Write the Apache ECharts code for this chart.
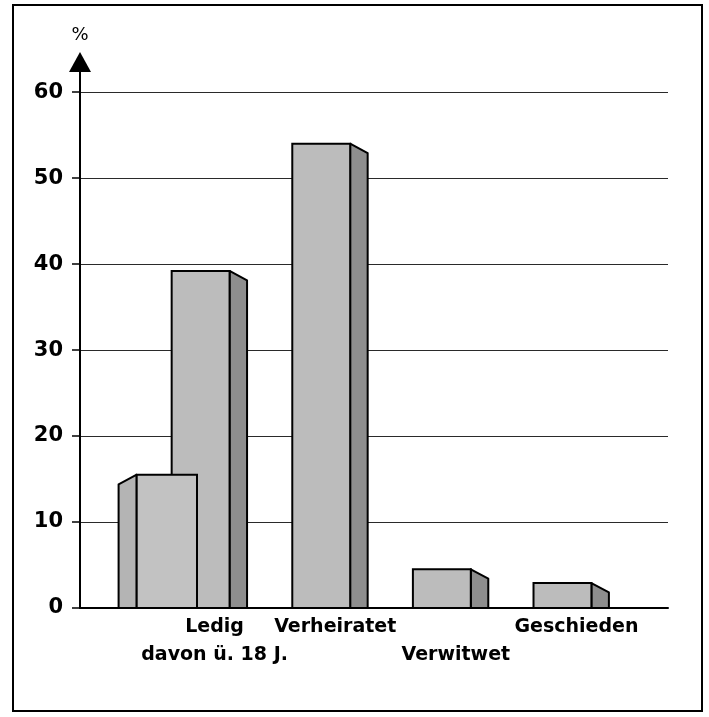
<!DOCTYPE html>
<html>
<head>
<meta charset="utf-8">
<script src="https://cdn.jsdelivr.net/npm/echarts@6/dist/echarts.min.js"></script>
<style>
html,body{margin:0;padding:0;background:#fff;}
#chart{width:709px;height:717px;}
</style>
</head>
<body>
<div id="chart"></div>
<script>
// ---- data ----
const categories = ['Ledig', 'Verheiratet', 'Verwitwet', 'Geschieden'];
const xPositions = [1, 2, 3, 4];
const values = [39.2, 54.0, 4.5, 2.9];           // % per Familienstand
const subValues = [15.5];                         // Ledig, davon über 18 J.
const row1Pos = [1, 2, 4];
const row1Text = ['Ledig', 'Verheiratet', 'Geschieden'];
const row2Pos = [1, 3];
const row2Text = ['davon ü. 18 J.', 'Verwitwet'];
const yTicks = [0, 10, 20, 30, 40, 50, 60];

const FONT = 'DejaVu Sans';

const chart = echarts.init(document.getElementById('chart'), null, {renderer: 'canvas'});

function mainBar(params, api) {
  const x = api.value(0), v = api.value(1);
  const base = api.coord([x, 0]);
  const top = api.coord([x, v]);
  const unit = api.size([1, 0])[0];
  const w = unit * 0.48, depth = unit * 0.145, drop = unit * 0.078;
  const x0 = base[0] - w / 2;
  return {
    type: 'group',
    children: [
      {type: 'polygon', shape: {points: [[x0 + w, top[1]], [x0 + w + depth, top[1] + drop], [x0 + w + depth, base[1]], [x0 + w, base[1]]]},
       style: {fill: '#8e8e8e', stroke: '#000', lineWidth: 2, lineJoin: 'round'}},
      {type: 'rect', shape: {x: x0, y: top[1], width: w, height: base[1] - top[1]},
       style: {fill: '#bcbcbc', stroke: '#000', lineWidth: 2}}
    ]
  };
}

function subBar(params, api) {
  const x = api.value(0), v = api.value(1);
  const unit = api.size([1, 0])[0];
  const base = api.coord([x, 0]);
  const top = api.coord([x, v]);
  const cx = base[0] - unit * 0.28;
  const w = unit * 0.5, depth = unit * 0.15, drop = unit * 0.08;
  const x0 = cx - w / 2;
  return {
    type: 'group',
    children: [
      {type: 'polygon', shape: {points: [[x0 - depth, top[1] + drop], [x0, top[1]], [x0, base[1]], [x0 - depth, base[1]]]},
       style: {fill: '#b4b4b4', stroke: '#000', lineWidth: 2, lineJoin: 'round'}},
      {type: 'rect', shape: {x: x0, y: top[1], width: w, height: base[1] - top[1]},
       style: {fill: '#c2c2c2', stroke: '#000', lineWidth: 2}}
    ]
  };
}

function labelStyle(pos, text, margin) {
  return {
    customValues: pos,
    showMinLabel: true, showMaxLabel: true, hideOverlap: false,
    margin: margin,
    color: '#000',
    fontFamily: FONT, fontWeight: 'bold', fontSize: 19, lineHeight: 28,
    padding: [0, 0, 0, 28],
    formatter: function (val) {
      const i = pos.indexOf(Math.round(val));
      return i < 0 ? '' : text[i];
    }
  };
}

const option = {
  animation: false,
  backgroundColor: '#fff',
  grid: {left: 80, right: 41, top: 62, bottom: 109, containLabel: false},
  graphic: [{
    type: 'rect', shape: {x: 13, y: 5, width: 689, height: 706},
    style: {fill: 'none', stroke: '#000', lineWidth: 2}, z: -1
  }],
  xAxis: [{
    type: 'value', min: 0, max: 4.875, position: 'bottom',
    axisLine: {show: true, lineStyle: {color: '#000', width: 2}},
    axisTick: {show: false},
    splitLine: {show: false},
    axisLabel: labelStyle(row1Pos, row1Text, 5)
  }, {
    type: 'value', min: 0, max: 4.875, position: 'bottom',
    axisLine: {show: false},
    axisTick: {show: false},
    splitLine: {show: false},
    axisLabel: labelStyle(row2Pos, row2Text, 33)
  }],
  yAxis: {
    type: 'value', min: 0, max: 63.5, interval: 10,
    name: '%', nameLocation: 'end', nameGap: 18,
    nameTextStyle: {color: '#000', fontFamily: FONT, fontSize: 18, align: 'center'},
    axisLine: {show: true, lineStyle: {color: '#000', width: 2}, symbol: ['none', 'triangle'], symbolSize: [22, 20]},
    axisTick: {show: true, customValues: yTicks, length: 8, lineStyle: {color: '#000', width: 1.5}},
    axisLabel: {customValues: yTicks, margin: 17, color: '#000', fontFamily: FONT, fontWeight: 'bold', fontSize: 21},
    splitLine: {show: true, showMinLine: false, lineStyle: {color: '#2a2a2a', width: 1}}
  },
  series: [
    {type: 'custom', renderItem: mainBar, data: values.map((v, i) => [xPositions[i], v]), z: 2, clip: false},
    {type: 'custom', renderItem: subBar, data: subValues.map((v, i) => [xPositions[i], v]), z: 3, clip: false}
  ]
};
chart.setOption(option);
</script>
</body>
</html>
